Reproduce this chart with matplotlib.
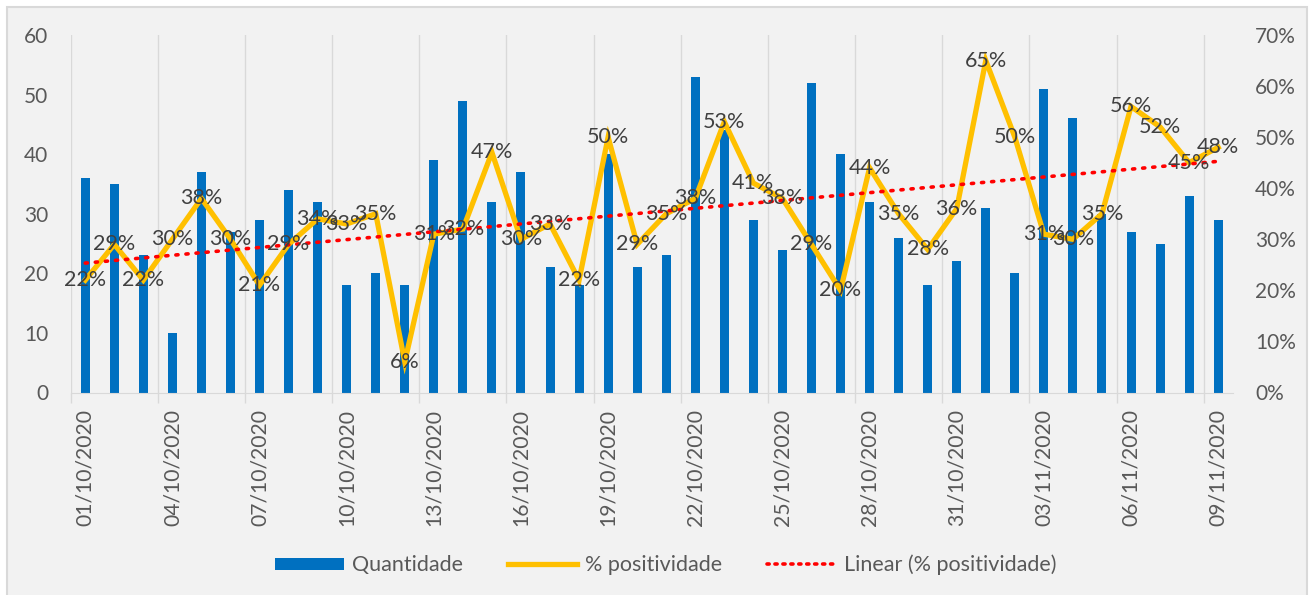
import numpy as np
import matplotlib
matplotlib.use("Agg")
import matplotlib.pyplot as plt
from matplotlib.patches import Rectangle
from matplotlib.lines import Line2D
from matplotlib.patches import Patch
import datetime as dt

# ---- data ----
start = dt.date(2020, 10, 1)
dates = [(start + dt.timedelta(days=i)).strftime("%d/%m/%Y") for i in range(40)]
quantidade = [36, 35, 23, 10, 37, 27, 29, 34, 32, 18,
              20, 18, 39, 49, 32, 37, 21, 18, 40, 21,
              23, 53, 44, 29, 24, 52, 40, 32, 26, 18,
              22, 31, 20, 51, 46, 30, 27, 25, 33, 29]
positividade = [22, 29, 22, 30, 38, 30, 21, 29, 34, 33,
                35, 6, 31, 32, 47, 30, 33, 22, 50, 29,
                35, 38, 53, 41, 38, 29, 20, 44, 35, 28,
                36, 65, 50, 31, 30, 35, 56, 52, 45, 48]
legend_labels = ["Quantidade", "% positividade", "Linear (% positividade)"]

FONT = ["Lato", "DejaVu Sans"]
plt.rcParams["font.family"] = FONT

W, H = 1316, 595
fig = plt.figure(figsize=(W / 100, H / 100), dpi=100)
fig.patch.set_facecolor("white")
# chart area frame
fig.patches.append(Rectangle((7 / W, -0.01), (1307 - 7) / W, 1 - 7 / H + 0.01,
                             transform=fig.transFigure, facecolor="#F2F2F2",
                             edgecolor="#D9D9D9", linewidth=1.5, zorder=-10))

left, right = 70.7 / W, 1232.7 / W
bottom, top = 1 - 392.5 / H, 1 - 35 / H
ax = fig.add_axes([left, bottom, right - left, top - bottom])
ax.set_facecolor("none")
ax2 = ax.twinx()

x = np.arange(len(dates))
ax.bar(x, quantidade, width=0.31, color="#0070C0", zorder=2)
ax.set_ylim(0, 60)
ax.set_yticks(range(0, 61, 10))
ax.set_xlim(-0.5, len(dates) - 0.5)

major = [i - 0.5 for i in range(0, 40, 3)]
ax.set_xticks(major)
ax.set_xticklabels([])
ax.set_xticks(list(range(0, 40, 3)), minor=True)
ax.set_xticklabels([dates[i] for i in range(0, 40, 3)], minor=True, rotation=90,
                   fontsize=15.2, color="#595959")
ax.tick_params(axis="x", which="major", length=7, color="#D9D9D9", width=1)
ax.tick_params(axis="x", which="minor", length=0, pad=12)
ax.xaxis.grid(True, which="major", color="#D9D9D9", linewidth=1)
ax.set_axisbelow(True)
ax.tick_params(axis="y", length=0, labelsize=15, labelcolor="#595959", pad=16)

for s in ["top", "left", "right"]:
    ax.spines[s].set_visible(False)
    ax2.spines[s].set_visible(False)
ax.spines["bottom"].set_color("#D9D9D9")
ax2.spines["bottom"].set_visible(False)

pos = np.array(positividade) / 100.0
ax2.plot(x, pos, color="#FFC000", linewidth=3.8, zorder=3, solid_joinstyle="miter")
coef = np.polyfit(x, pos, 1)
trend = np.polyval(coef, x)
ax2.plot(x, trend, color="#FF0000", linewidth=2.6, linestyle=(0, (0.6, 2.2)),
         dash_capstyle="round", zorder=4)
ax2.set_ylim(0, 0.70)
ax2.set_yticks(np.arange(0, 0.71, 0.1))
ax2.set_yticklabels([f"{int(round(v*100))}%" for v in np.arange(0, 0.71, 0.1)])
ax2.tick_params(axis="y", length=0, labelsize=15, labelcolor="#595959", pad=16)

for xi, v in zip(x, positividade):
    ax2.text(xi, v / 100.0, f"{v}%", ha="center", va="center", fontsize=15.5,
             color="#404040", zorder=5)

handles = [Patch(facecolor="#0070C0", edgecolor="none"),
           Line2D([], [], color="#FFC000", linewidth=3.8),
           Line2D([], [], color="#FF0000", linewidth=2.6, linestyle=(0, (0.6, 1.6)),
                  dash_capstyle="round")]
leg = fig.legend(handles, legend_labels, loc="center", bbox_to_anchor=(666 / W, 1 - 565 / H),
                 ncol=3, frameon=False, fontsize=15.5, handlelength=3.2, handleheight=0.5,
                 columnspacing=2.1, handletextpad=0.37)
for t in leg.get_texts():
    t.set_color("#595959")

fig.savefig("out.png", dpi=100, facecolor=fig.get_facecolor())
